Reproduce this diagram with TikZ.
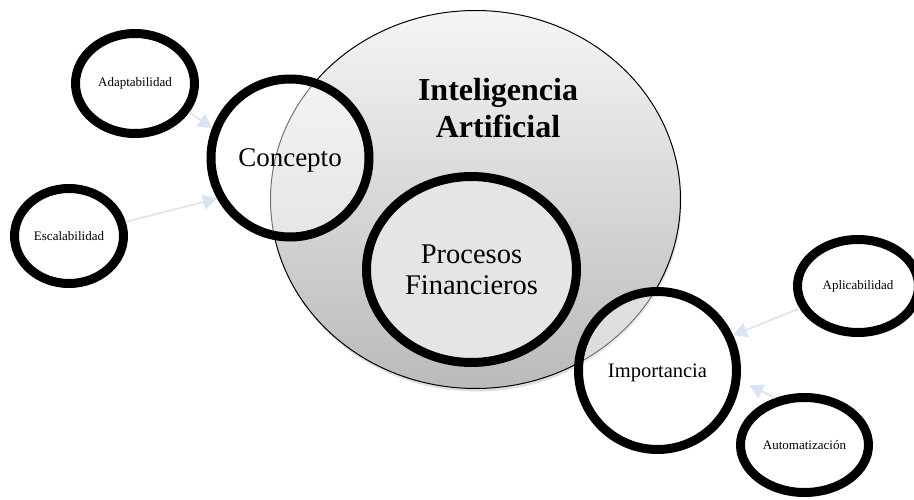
\documentclass[tikz,border=0pt]{standalone}
\usepackage{fontspec}
\setmainfont{Liberation Serif}
\usetikzlibrary{shapes.geometric,arrows.meta,shadows}
\definecolor{azulclaro}{RGB}{216,228,242}

\begin{document}
\begin{tikzpicture}[x=1pt,y=-1pt]
    \tikzstyle{anillo}=[ellipse,draw=black,line width=9pt,inner sep=0pt]
    \tikzstyle{tema}=[anillo,fill=white,fill opacity=0.45,text opacity=1,minimum size=158pt,text depth=0pt]
    \tikzstyle{rasgo}=[anillo,fill=white,font=\fontsize{13}{15}\selectfont]
    \tikzstyle{flecha}=[draw=azulclaro,line width=1.6pt,-{Triangle[width=15pt,length=14pt,fill=azulclaro]}]

    \useasboundingbox (0,0) rectangle (914,500);

    \node[ellipse,draw=black,line width=1pt,top color=black!4,bottom color=black!27,
          minimum width=410pt,minimum height=378pt,
          drop shadow={opacity=0.25,shadow xshift=1pt,shadow yshift=-3pt}] (IA) at (475.5,199.5) {};
    \node[font=\bfseries\fontsize{32}{37}\selectfont,align=center] (titulo) at (498,108) {Inteligencia\\Artificial};
    \node[anillo,fill=black!10,minimum width=210pt,minimum height=186pt,
          font=\fontsize{28.5}{31}\selectfont,align=center] (PF) at (471.5,269.5) {Procesos\\Financieros};

    \node[tema,font=\fontsize{27}{30}\selectfont] (conc) at (290,158) {Concepto};
    \node[tema,font=\fontsize{20.5}{24}\selectfont] (impo) at (657.5,370.5) {Importancia};

    \foreach \name/\x/\y/\w/\h/\txt in {adap/135/83.5/119/100/Adaptabilidad,
                                        esca/69/236/109/95/Escalabilidad,
                                        apli/858/286/121/93/Aplicabilidad,
                                        auto/804.5/445/128/95/Automatización}
        \node[rasgo,minimum width=\w pt,minimum height=\h pt] (\name) at (\x,\y) {\txt};

    \foreach \source/\a/\dest/\b/\s in {adap/-28/conc/159/0, esca/14/conc/209/0,
                                        apli/201/impo/25/0, auto/122/impo/-7/10}
        \draw[flecha,shorten >=\s pt] (\source.\a) -- (\dest.\b);
\end{tikzpicture}
\end{document}
